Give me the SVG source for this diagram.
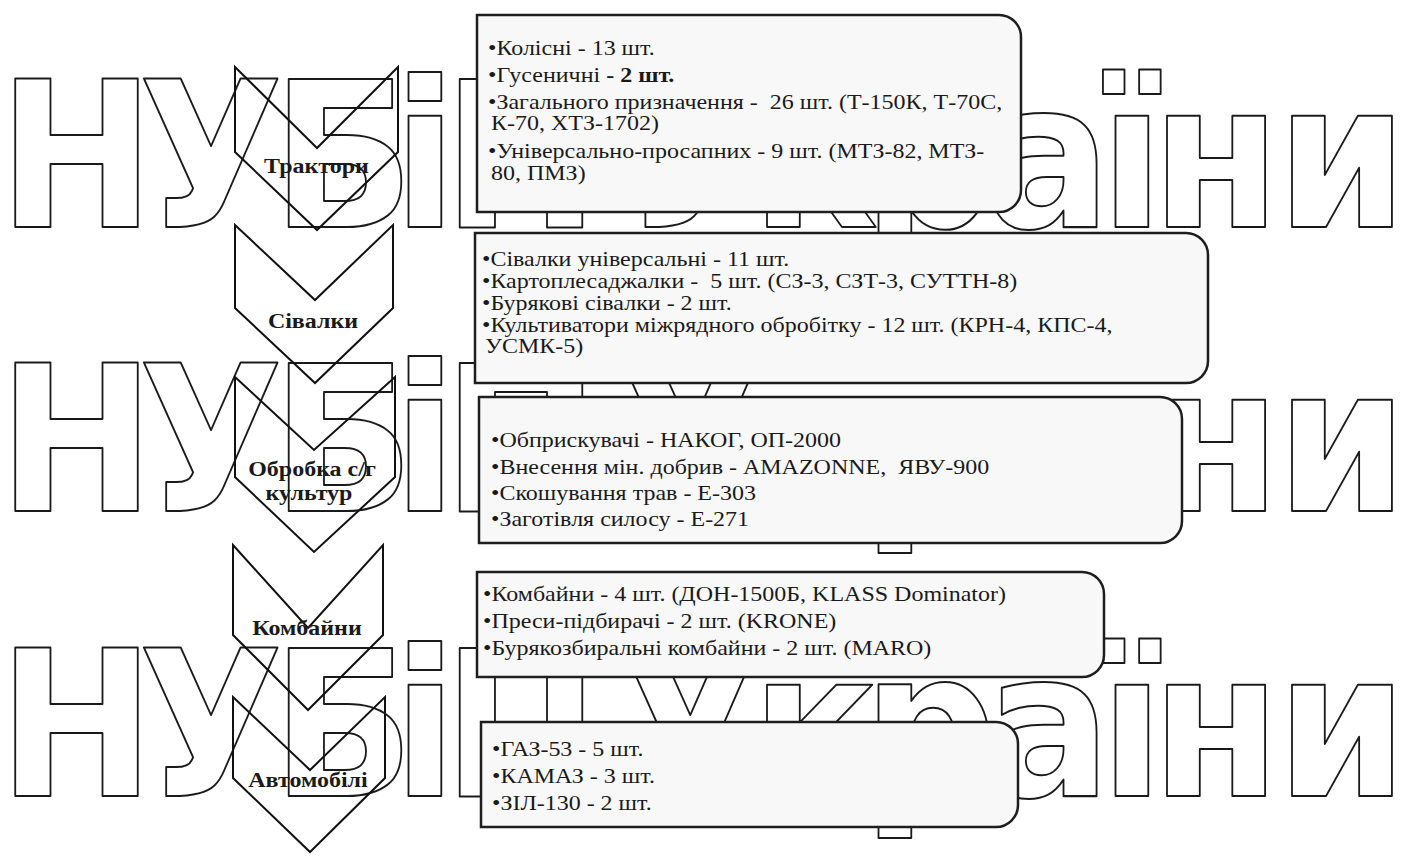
<svg xmlns="http://www.w3.org/2000/svg" xmlns:xlink="http://www.w3.org/1999/xlink" width="1410" height="857" viewBox="0 0 1410 857">
<style>
.wm{font-family:"DejaVu Sans",sans-serif;font-weight:bold;font-size:204px;fill:none;stroke:#1a1a1a;stroke-width:2;stroke-linejoin:round;text-anchor:middle}
.chev{fill:none;stroke:#111;stroke-width:2;stroke-linejoin:miter}
.box{fill:#f8f8f8;stroke:#1e1e1e;stroke-width:2.5}
.t{font-family:"Liberation Serif","Times New Roman",serif;font-size:20px;fill:#1a1a1a;white-space:pre}
.lbl{font-family:"Liberation Serif","Times New Roman",serif;font-size:20px;font-weight:bold;fill:#1a1a1a;text-anchor:middle}
.b{font-weight:bold}
</style>
<defs>
<text id="wm" class="wm" transform="scale(0.92,1)" x="83.2 229.3 372.8 462 566.3 660 750 885.9 1010.9 1139.1 1230.4 1321.7 1458.7" y="227">НУБіП України</text>
</defs>
<rect x="0" y="0" width="1410" height="857" fill="#ffffff"/>
<g id="watermark">
<use xlink:href="#wm"/>
<use xlink:href="#wm" y="284"/>
<use xlink:href="#wm" y="569"/>
</g>
<g id="connectors"></g>
<g id="chevron-tractors">
<path class="chev" d="M235,67 L317,148 L398,67 L398,152 L317,230 L235,152 Z"/>
<text class="lbl" transform="translate(316.5,173) scale(1.2,1)">Трактори</text>
</g>
<g id="chevron-seeders">
<path class="chev" d="M235,225 L315,300 L393,225 L393,308 L315,383 L235,308 Z"/>
<text class="lbl" transform="translate(313,328) scale(1.2,1)">Сівалки</text>
</g>
<g id="chevron-processing">
<path class="chev" d="M235,377 L314,450 L395,377 L395,477 L314,552 L235,477 Z"/>
<text class="lbl" transform="translate(312,476) scale(1.2,1)">Обробка с/г</text>
<text class="lbl" transform="translate(309,500) scale(1.2,1)">культур</text>
</g>
<g id="chevron-combines">
<path class="chev" d="M233,545 L308,628 L383,545 L383,635 L308,710 L233,635 Z"/>
<text class="lbl" transform="translate(307,635) scale(1.2,1)">Комбайни</text>
</g>
<g id="chevron-cars">
<path class="chev" d="M233,697 L310,770 L385,697 L385,778 L310,852 L233,778 Z"/>
<text class="lbl" transform="translate(308,787) scale(1.2,1)">Автомобілі</text>
</g>
<g id="box-tractors">
<path class="box" d="M477,15 H999 A22,22 0 0 1 1021,37 V190 A22,22 0 0 1 999,212 H477 Z"/>
<g transform="translate(488,0) scale(1.2,1)">
<text class="t" x="0" y="55">•Колісні - 13 шт.</text>
<text class="t" x="0" y="82">•Гусеничні <tspan class="b">- 2 шт.</tspan></text>
<text class="t" x="0" y="109">•Загального призначення -  26 шт. (Т-150К, Т-70С,</text>
<text class="t" x="2.5" y="130">К-70, ХТЗ-1702)</text>
<text class="t" x="0" y="158">•Універсально-просапних - 9 шт. (МТЗ-82, МТЗ-</text>
<text class="t" x="2.5" y="180">80, ПМЗ)</text>
</g>
</g>
<g id="box-seeders">
<path class="box" d="M475,233 H1186 A22,22 0 0 1 1208,255 V361 A22,22 0 0 1 1186,383 H475 Z"/>
<g transform="translate(482,0) scale(1.2,1)">
<text class="t" x="0" y="266">•Сівалки універсальні - 11 шт.</text>
<text class="t" x="0" y="288">•Картоплесаджалки -  5 шт. (СЗ-3, СЗТ-3, СУТТН-8)</text>
<text class="t" x="0" y="310">•Бурякові сівалки - 2 шт.</text>
<text class="t" x="0" y="332">•Культиватори міжрядного обробітку - 12 шт. (КРН-4, КПС-4,</text>
<text class="t" x="2.5" y="353">УСМК-5)</text>
</g>
</g>
<g id="box-processing">
<path class="box" d="M479,397 H1160 A22,22 0 0 1 1182,419 V521 A22,22 0 0 1 1160,543 H479 Z"/>
<g transform="translate(491,0) scale(1.2,1)">
<text class="t" x="0" y="447">•Обприскувачі - НАКОГ, ОП-2000</text>
<text class="t" x="0" y="474">•Внесення мін. добрив - AMAZONNE,  ЯВУ-900</text>
<text class="t" x="0" y="500">•Скошування трав - Е-303</text>
<text class="t" x="0" y="526">•Заготівля силосу - Е-271</text>
</g>
</g>
<g id="box-combines">
<path class="box" d="M477,572 H1082 A22,22 0 0 1 1104,594 V655 A22,22 0 0 1 1082,677 H477 Z"/>
<g transform="translate(483,0) scale(1.2,1)">
<text class="t" x="0" y="601">•Комбайни - 4 шт. (ДОН-1500Б, KLASS Dominator)</text>
<text class="t" x="0" y="628">•Преси-підбирачі - 2 шт. (KRONE)</text>
<text class="t" x="0" y="655">•Бурякозбиральні комбайни - 2 шт. (MARO)</text>
</g>
</g>
<g id="box-cars">
<path class="box" d="M481,722 H996 A22,22 0 0 1 1018,744 V805 A22,22 0 0 1 996,827 H481 Z"/>
<g transform="translate(492,0) scale(1.2,1)">
<text class="t" x="0" y="756">•ГАЗ-53 - 5 шт.</text>
<text class="t" x="0" y="783">•КАМАЗ - 3 шт.</text>
<text class="t" x="0" y="810">•ЗІЛ-130 - 2 шт.</text>
</g>
</g>
</svg>
